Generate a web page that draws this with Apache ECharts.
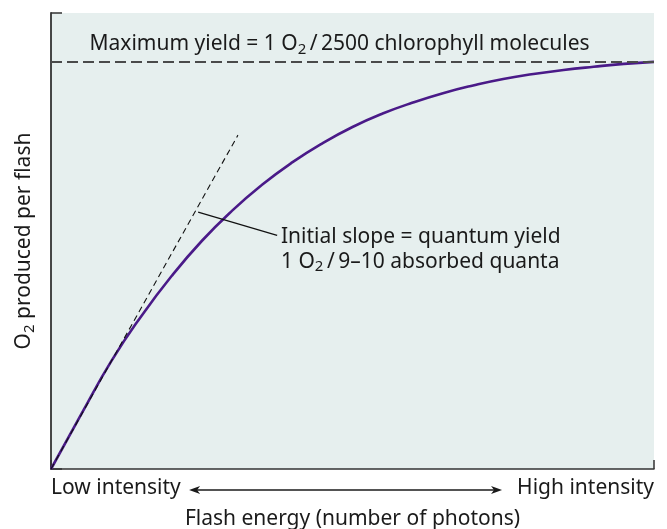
<!DOCTYPE html>
<html>
<head>
<meta charset="utf-8">
<script src="https://cdn.jsdelivr.net/npm/echarts@6/dist/echarts.min.js"></script>
<style>
  html, body { margin: 0; padding: 0; background: #ffffff; }
  #chart { width: 667px; height: 529px; }
</style>
</head>
<body>
<div id="chart"></div>
<script>
// Flash energy (relative units: 0 = no light, 100 = saturating flash)
const flashEnergy = [0, 5, 10, 15, 20, 25, 30, 35, 40, 45, 50, 55, 60, 65, 70, 75, 80, 85, 90, 95, 100];
// O2 produced per flash, in % of the maximum yield
const o2Yield = [0, 13.4, 26.5, 37.6, 47.4, 56.0, 63.4, 69.8, 75.3, 80.0, 84.0, 87.3, 90.0, 92.3, 94.2, 95.8, 97.0, 98.0, 98.8, 99.5, 100];
// Initial-slope tangent drawn through the origin
const slopeX = [0, 31];
const slopeY = [0, 82];
// Saturation level (maximum yield)
const maxYield = 100;
// Leader line from the tangent to its caption
const leaderX = [24.4, 37.5];
const leaderY = [63.1, 57.4];
// Double arrow under the x axis, in flash-energy units
const arrowSpan = [22.9, 74.8];
// X axis end labels
const xTickValues = [0, 100];
const xTickLabels = ['Low intensity', 'High intensity'];

const FONT = 'Noto Sans';
const INK = '#1a1a1a';
const AXIS = '#333333';

const textMain = { fontFamily: FONT, fontSize: 21, color: INK, lineHeight: 25 };
const textSub = { fontFamily: FONT, fontSize: 15, color: INK, lineHeight: 15, verticalAlign: 'bottom' };

const chart = echarts.init(document.getElementById('chart'), null, { renderer: 'canvas' });

const option = {
  animation: false,
  backgroundColor: '#ffffff',
  grid: {
    left: 51, top: 13, right: 13, bottom: 60,
    outerBoundsMode: 'none',
    show: true, backgroundColor: '#e6efee', borderWidth: 0
  },
  xAxis: {
    type: 'value',
    min: xTickValues[0], max: xTickValues[1], interval: xTickValues[1] - xTickValues[0],
    splitLine: { show: false },
    axisLine: { show: true, lineStyle: { color: AXIS, width: 1.5 } },
    axisTick: { show: true, inside: true, length: 9, lineStyle: { color: AXIS, width: 1.5 } },
    axisLabel: {
      show: true, margin: 9,
      fontFamily: FONT, fontSize: 21, color: INK,
      alignMinLabel: 'left', alignMaxLabel: 'right',
      formatter: v => xTickLabels[xTickValues.indexOf(v)] || ''
    },
    name: 'Flash energy (number of photons)',
    nameLocation: 'middle', nameGap: 40,
    nameTextStyle: { fontFamily: FONT, fontSize: 21, color: INK }
  },
  yAxis: {
    type: 'value',
    min: 0, max: 112, interval: 112,
    splitLine: { show: false },
    axisLine: { show: true, lineStyle: { color: AXIS, width: 1.8 } },
    axisTick: { show: true, inside: true, length: 11, lineStyle: { color: AXIS, width: 1.5 } },
    axisLabel: { show: false },
    name: '{a|O}{s|2}{a| produced per flash}',
    nameLocation: 'middle', nameGap: 14,
    nameTextStyle: { rich: { a: textMain, s: textSub } }
  },
  series: [
    {
      name: 'O2 yield',
      type: 'line',
      data: flashEnergy.map((x, i) => [x, o2Yield[i]]),
      smooth: true,
      showSymbol: false, symbol: 'none',
      lineStyle: { color: '#4a1a88', width: 2.6 },
      z: 3,
      markLine: {
        silent: true, symbol: ['none', 'none'],
        lineStyle: { color: '#4a4a4a', width: 1.8, type: [11, 5] },
        label: {
          show: true, position: 'insideMiddleTop', distance: 5,
          padding: [0, 26, 0, 0],
          formatter: '{a|Maximum yield = 1 O}{s|2}{a|\u2009/\u20092500 chlorophyll molecules}',
          rich: { a: textMain, s: textSub }
        },
        data: [{ yAxis: maxYield }]
      }
    },
    {
      name: 'Initial slope',
      type: 'line',
      data: slopeX.map((x, i) => [x, slopeY[i]]),
      showSymbol: false, symbol: 'none',
      lineStyle: { color: '#111111', width: 1.1, type: [6, 4] },
      z: 4,
      markLine: {
        silent: true, symbol: ['none', 'none'],
        lineStyle: { color: '#111111', width: 1.2, type: 'solid' },
        label: {
          show: true, position: 'end', distance: 4,
          padding: [26, 0, 0, 0],
          formatter: '{a|Initial slope = quantum yield}\n{a|1 O}{s|2}{a|\u2009/\u20099\u201310 absorbed quanta}',
          rich: { a: textMain, s: textSub }
        },
        data: [[
          { coord: [leaderX[0], leaderY[0]] },
          { coord: [leaderX[1], leaderY[1]] }
        ]]
      }
    }
  ]
};

chart.setOption(option);

// Double-headed arrow between the two x-axis end labels
const axisPx = chart.convertToPixel({ gridIndex: 0 }, [0, 0]);
const xa = chart.convertToPixel({ xAxisIndex: 0 }, arrowSpan[0]);
const xb = chart.convertToPixel({ xAxisIndex: 0 }, arrowSpan[1]);
const ay = axisPx[1] + 21;
chart.setOption({
  graphic: [
    { type: 'line', shape: { x1: xa + 6, y1: ay, x2: xb - 6, y2: ay }, style: { stroke: INK, lineWidth: 1.3 } },
    { type: 'polygon', shape: { points: [[xa, ay], [xa + 11, ay - 4], [xa + 8, ay], [xa + 11, ay + 4]] }, style: { fill: INK } },
    { type: 'polygon', shape: { points: [[xb, ay], [xb - 11, ay - 4], [xb - 8, ay], [xb - 11, ay + 4]] }, style: { fill: INK } }
  ]
});
</script>
</body>
</html>
